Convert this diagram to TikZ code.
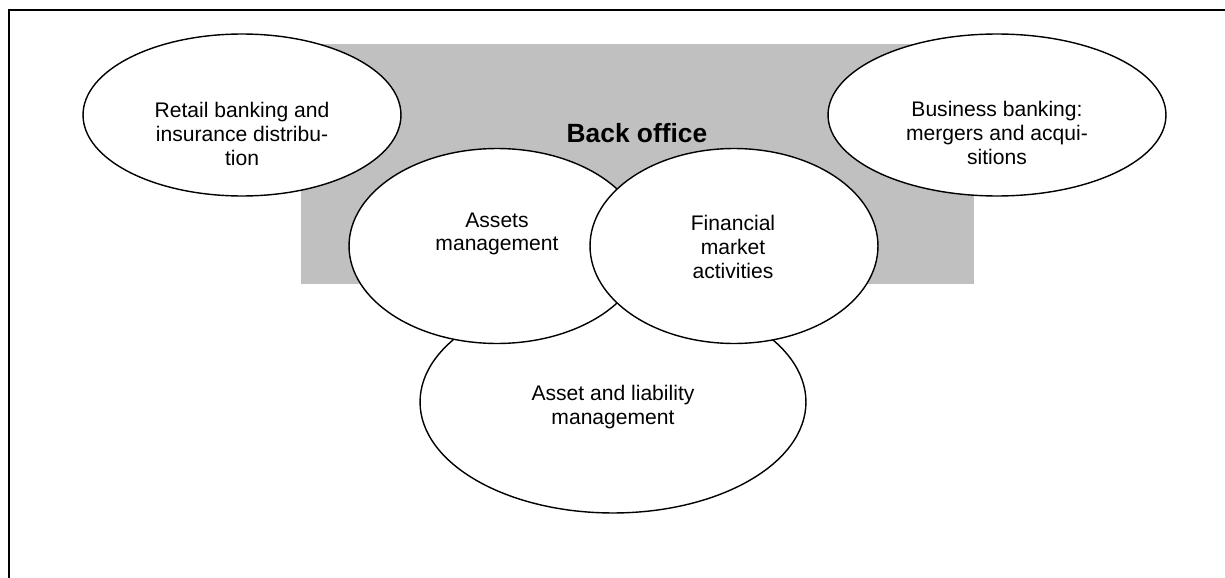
\documentclass[tikz,border=0pt]{standalone}
\usepackage{fontspec}
\setmainfont{Liberation Sans}
\usetikzlibrary{shapes.geometric}
\definecolor{backgray}{RGB}{192,192,192}
\tikzset{
  oval/.style={ellipse,draw,line width=0.8pt,fill=white,inner sep=0pt},
  txt/.style={align=center,font=\fontsize{12}{13.5}\selectfont}
}

\begin{document}
\begin{tikzpicture}[x=0.02cm,y=-0.02cm]
 \useasboundingbox (0,0) rectangle (1225,578);
 \draw[line width=1.2pt] (9,578)--(9,10)--(1225,10);
 \fill[backgray] (301,44) rectangle (974,284);
 \node[font=\bfseries\fontsize{15}{18}\selectfont] (back) at (637,133) {Back office};
 % outer activities
 \node[oval,minimum width=6.36cm,minimum height=3.24cm] (retail) at (242,115) {};
 \node[oval,minimum width=6.76cm,minimum height=3.24cm] (business) at (997,115) {};
 % core activities
 \node[oval,minimum width=7.72cm,minimum height=4.44cm] (alm) at (613,402) {};
 \node[oval,minimum width=5.92cm,minimum height=3.9cm] (assets) at (497,246) {};
 \node[oval,minimum width=5.76cm,minimum height=3.9cm] (market) at (734,246) {};
 % labels
 \node[txt] (retailtxt) at (242,134) {Retail banking and\\insurance distribu-\\tion};
 \node[txt] (businesstxt) at (997,133) {Business banking:\\mergers and acqui-\\sitions};
 \node[txt] (assetstxt) at (497,234) {Assets\\management};
 \node[txt] (markettxt) at (733,247) {Financial\\market\\activities};
 \node[txt] (almtxt) at (613,407) {Asset and liability\\management};
\end{tikzpicture}
\end{document}
